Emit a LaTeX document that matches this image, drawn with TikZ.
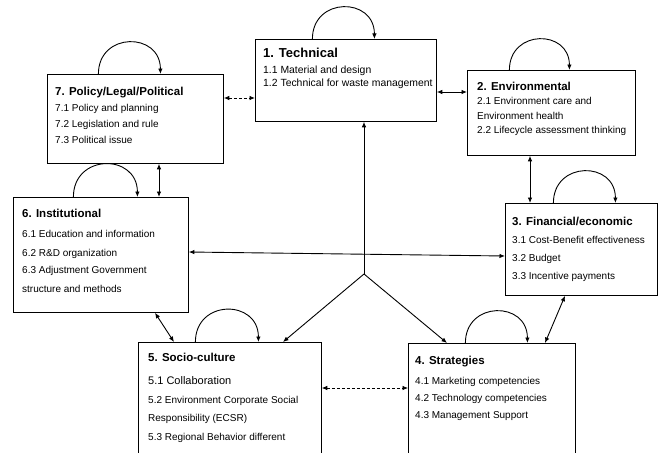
\documentclass[tikz,border=0pt]{standalone}
\usepackage{fontspec}
\setmainfont{Liberation Sans}
\usetikzlibrary{arrows.meta}
\newcommand{\hdfont}{\fontsize{11.5}{12}\selectfont\bfseries}
\newcommand{\hdbig}{\fontsize{13}{12}\selectfont\bfseries}

\begin{document}
\begin{tikzpicture}[x=1pt,y=-1pt,
box/.style = {draw, rectangle, anchor=north west, inner sep=0pt, line width=.8pt},
body/.style = {anchor=north west, align=left, inner sep=0pt, font=\fontsize{10}{12}\selectfont},
link/.style = {-{Latex[length=5.5pt,width=4.5pt]}, line width=.9pt},
dlink/.style = {{Latex[length=5.5pt,width=4.5pt]}-{Latex[length=5.5pt,width=4.5pt]}, line width=.9pt},
loopy/.style = {-{Latex[length=5.5pt,width=4.5pt]}, line width=.9pt, out=90, in=90, looseness=1.75}]
\clip (0,0) rectangle (660,452);

% boxes
\node[box, minimum width=181pt, minimum height=82pt] (b1) at (255,39) {};
\node[box, minimum width=168pt, minimum height=85pt] (b2) at (467,70) {};
\node[box, minimum width=152pt, minimum height=92pt] (b3) at (505,203) {};
\node[box, minimum width=167pt, minimum height=130pt] (b4) at (408,343) {};
\node[box, minimum width=183pt, minimum height=130pt] (b5) at (138,342) {};
\node[box, minimum width=175pt, minimum height=115pt] (b6) at (13,197) {};
\node[box, minimum width=176pt, minimum height=89pt] (b7) at (47,74) {};

% texts
\node[body, font=\fontsize{10.4}{12}\selectfont] (t1) at (263,48.2) {{\hdbig 1. Technical}\\[4pt]
  1.1 Material and design\\[1pt]
  1.2 Technical for waste management};
\node[body] (t2) at (477,81.7) {{\hdfont 2. Environmental}\\[2.5pt]
  2.1 Environment care and\\[3pt]
  Environment health\\[2pt]
  2.2 Lifecycle assessment thinking};
\node[body] (t3) at (512,216.7) {{\hdfont 3. Financial/economic}\\[6.5pt]
  3.1 Cost-Benefit effectiveness\\[6pt]
  3.2 Budget\\[6pt]
  3.3 Incentive payments};
\node[body] (t4) at (415,355.7) {{\hdfont 4. Strategies}\\[8.5pt]
  4.1 Marketing competencies\\[5pt]
  4.2 Technology competencies\\[5pt]
  4.3 Management Support};
\node[body] (t5) at (148,352.7) {{\hdfont 5. Socio-culture}\\[10.9pt]
  {\fontsize{11}{12}\selectfont 5.1 Collaboration}\\[7.6pt]
  5.2 Environment Corporate Social\\[6pt]
  Responsibility (ECSR)\\[7pt]
  5.3 Regional Behavior different};
\node[body] (t6) at (22,208.7) {{\hdfont 6. Institutional}\\[8.5pt]
  6.1 Education and information\\[7pt]
  6.2 R\&D organization\\[5pt]
  6.3 Adjustment Government\\[7pt]
  structure and methods};
\node[body] (t7) at (55,86.7) {{\hdfont 7. Policy/Legal/Political}\\[4.5pt]
  7.1 Policy and planning\\[4pt]
  7.2 Legislation and rule\\[4pt]
  7.3 Political issue};

% self loops
\draw[loopy] ([xshift=-33.5pt]b1.north) to ([xshift=28.5pt]b1.north);
\draw[loopy] ([xshift=-42pt]b2.north) to ([xshift=18pt]b2.north);
\draw[loopy] ([xshift=-28pt]b3.north) to ([xshift=34pt]b3.north);
\draw[loopy] ([xshift=-26.5pt]b4.north) to ([xshift=35.5pt]b4.north);
\draw[loopy] ([xshift=-34.5pt]b5.north) to ([xshift=28.5pt]b5.north);
\draw[loopy] ([xshift=-27.5pt]b6.north) to ([xshift=36.5pt]b6.north);
\draw[loopy] ([xshift=-37pt]b7.north) to ([xshift=25pt]b7.north);

% links between boxes
\draw[dlink, densely dashed] (b7.east |- 0,98) -- (b1.west |- 0,98);
\draw[dlink] (b1.east |- 0,92) -- (b2.west |- 0,92);
\draw[dlink] (b7.south -| 159,0) -- (b6.north -| 159,0);
\draw[dlink] (b2.south -| 530,0) -- (b3.north -| 530,0);
\draw[dlink] (b6.south -| 155,0) -- (b5.north -| 174,0);
\draw[dlink, densely dashed, line width=.7pt] (b5.east |- 0,388) -- (b4.west |- 0,388);
\draw[dlink] (b4.north -| 545,0) -- (b3.south -| 565,0);

% hub in the middle
\coordinate (hub) at (364,274);
\draw[link] (hub) -- (b1.south -| hub);
\draw[dlink] (b6.east |- 0,252) -- (b3.west |- 0,256);
\draw[link] (hub) -- (b5.north -| 283,0);
\draw[link] (hub) -- (b4.north -| 447,0);

\end{tikzpicture}
\end{document}
